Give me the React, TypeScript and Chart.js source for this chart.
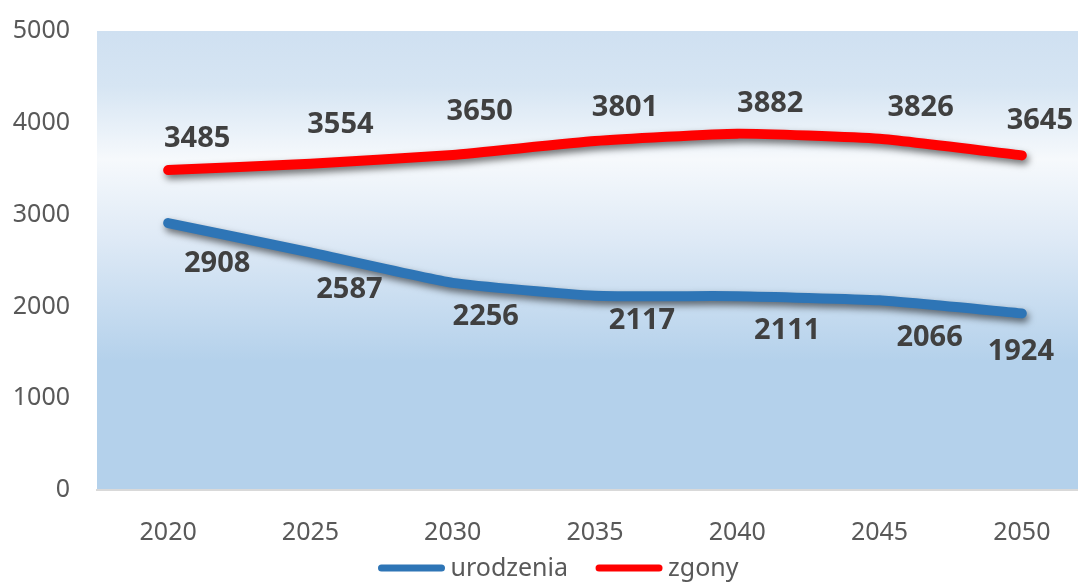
import React, { useEffect, useRef } from "react";
import { Chart, registerables } from "chart.js";

Chart.register(...registerables);

const years = ["2020", "2025", "2030", "2035", "2040", "2045", "2050"];
const urodzenia = [2908, 2587, 2256, 2117, 2111, 2066, 1924];
const zgony = [3485, 3554, 3650, 3801, 3882, 3826, 3645];
const yTicks = [0, 1000, 2000, 3000, 4000, 5000];

// label offsets (px) relative to each point, as placed in the original
const urodzeniaLabelOffsets = [[49, 41], [39, 37], [33, 34], [47, 25], [50, 35], [50, 37], [-1, 38]];
const zgonyLabelOffsets = [[29, -31], [30, -39], [27, -43], [30, -33], [33, -30], [41, -31], [18, -35]];

const BLUE = "#2e75b6";
const RED = "#ff0000";
const TEXT = "#595959";
const FONT = "'Noto Sans', 'DejaVu Sans', sans-serif";

const bgPlugin = {
  id: "bgGradient",
  beforeDraw(chart: any) {
    const { ctx, chartArea } = chart;
    const { left, right, top, bottom } = chartArea;
    const g = ctx.createLinearGradient(0, top, 0, bottom);
    g.addColorStop(0, "#cfe0f1");
    g.addColorStop(0.12, "#d6e5f3");
    g.addColorStop(0.28, "#f6f9fc");
    g.addColorStop(0.45, "#dfeaf6");
    g.addColorStop(0.72, "#b4d1eb");
    g.addColorStop(1, "#b4d1eb");
    ctx.save();
    ctx.fillStyle = g;
    ctx.fillRect(left, top, right - left, bottom - top);
    ctx.restore();
  },
};

const shadowPlugin = {
  id: "lineShadow",
  beforeDatasetDraw(chart: any) {
    const ctx = chart.ctx;
    ctx.save();
    ctx.shadowColor = "rgba(0,0,0,0.55)";
    ctx.shadowBlur = 7;
    ctx.shadowOffsetX = 2;
    ctx.shadowOffsetY = 4;
  },
  afterDatasetDraw(chart: any) {
    chart.ctx.restore();
  },
};

const labelPlugin = {
  id: "valueLabels",
  afterDatasetsDraw(chart: any) {
    const ctx = chart.ctx;
    ctx.save();
    ctx.font = `bold 29px ${FONT}`;
    ctx.fillStyle = "#404040";
    ctx.textAlign = "center";
    ctx.textBaseline = "middle";
    chart.data.datasets.forEach((ds: any, di: number) => {
      const meta = chart.getDatasetMeta(di);
      const offs = ds.labelOffsets as number[][];
      meta.data.forEach((pt: any, i: number) => {
        const [dx, dy] = offs[i];
        ctx.fillText(String(ds.data[i]), pt.x + dx, pt.y + dy);
      });
    });
    ctx.restore();
  },
};

const legendPlugin = {
  id: "customLegend",
  afterDraw(chart: any) {
    const ctx = chart.ctx;
    const lineLen = 66;
    const gapText = 6;
    const gapItem = 28;
    ctx.save();
    ctx.font = `25px ${FONT}`;
    ctx.textBaseline = "middle";
    ctx.textAlign = "left";
    const items = chart.data.datasets.map((ds: any) => ({
      text: ds.label,
      color: ds.borderColor,
      w: ctx.measureText(ds.label).width,
    }));
    const total =
      items.reduce((s: number, it: any) => s + lineLen + gapText + it.w, 0) + gapItem * (items.length - 1);
    const cx = (20 + chart.chartArea.right) / 2 + 2;
    const y = chart.height - 15;
    let x = cx - total / 2;
    items.forEach((it: any) => {
      ctx.strokeStyle = it.color;
      ctx.lineWidth = 7;
      ctx.lineCap = "round";
      ctx.beginPath();
      ctx.moveTo(x + 3, y);
      ctx.lineTo(x + lineLen - 3, y);
      ctx.stroke();
      ctx.fillStyle = TEXT;
      ctx.fillText(it.text, x + lineLen + gapText, y + 1);
      x += lineLen + gapText + it.w + gapItem;
    });
    ctx.restore();
  },
};

export default function App() {
  const ref = useRef<HTMLCanvasElement>(null);

  useEffect(() => {
    const chart = new Chart(ref.current!, {
      type: "line",
      data: {
        labels: years,
        datasets: [
          {
            label: "urodzenia",
            data: urodzenia,
            borderColor: BLUE,
            backgroundColor: BLUE,
            borderWidth: 10,
            borderCapStyle: "round",
            borderJoinStyle: "round",
            pointRadius: 0,
            tension: 0.15,
            labelOffsets: urodzeniaLabelOffsets,
          } as any,
          {
            label: "zgony",
            data: zgony,
            borderColor: RED,
            backgroundColor: RED,
            borderWidth: 10,
            borderCapStyle: "round",
            borderJoinStyle: "round",
            pointRadius: 0,
            tension: 0.15,
            labelOffsets: zgonyLabelOffsets,
          } as any,
        ],
      },
      options: {
        animation: false,
        responsive: false,
        layout: { padding: { left: 0, right: 7, top: 18, bottom: 30 } },
        scales: {
          x: {
            offset: true,
            grid: { display: false, drawTicks: false },
            border: { display: true, color: "#d9d9d9", width: 2 },
            ticks: { color: TEXT, font: { family: FONT, size: 25 }, padding: 28 },
            afterFit(scale: any) {
              scale.height = 63;
            },
          },
          y: {
            min: 0,
            max: 5000,
            afterBuildTicks(scale: any) {
              scale.ticks = yTicks.map((v) => ({ value: v }));
            },
            grid: { display: false, drawTicks: false },
            border: { display: false },
            ticks: {
              color: TEXT,
              font: { family: FONT, size: 25 },
              padding: 27,
              callback: (v: any) => String(v),
            },
            afterFit(scale: any) {
              scale.width = 97;
            },
          },
        },
        plugins: {
          tooltip: { enabled: false },
          legend: { display: false },
        },
      },
      plugins: [bgPlugin, shadowPlugin, labelPlugin, legendPlugin],
    });
    return () => chart.destroy();
  }, []);

  return (
    <div
      style={{
        position: "fixed",
        left: 0,
        top: 0,
        width: 1078,
        height: 583,
        overflow: "hidden",
        background: "#ffffff",
      }}
    >
      <canvas
        ref={ref}
        width={1100}
        height={594}
        style={{ display: "block", position: "absolute", left: 0, top: -11 }}
      />
    </div>
  );
}
